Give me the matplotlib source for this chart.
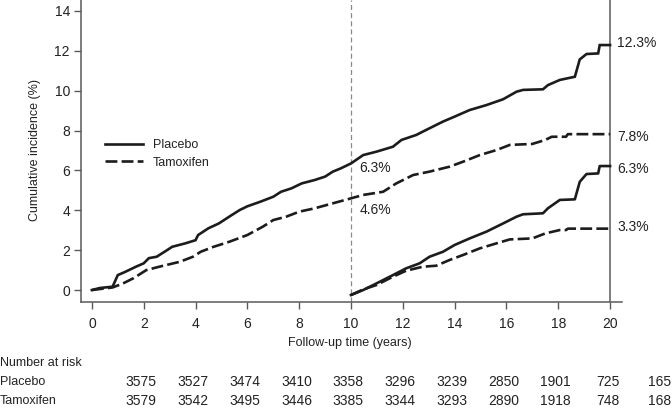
import matplotlib
matplotlib.use("Agg")
import matplotlib.pyplot as plt
import matplotlib.transforms as mtransforms

plt.rcParams['font.family'] = ['Liberation Sans', 'DejaVu Sans']

# ---- data ----
plac1_t = [0, 0.3, 0.8, 1.0, 1.3, 1.7, 2.0, 2.2, 2.5, 2.9, 3.1, 3.6, 4.0, 4.1, 4.5, 4.9, 5.3, 5.7,
           6.0, 6.5, 7.0, 7.3, 7.7, 8.1, 8.6, 9.0, 9.3, 9.6, 10.0, 10.47, 10.98, 11.62, 11.95, 12.52,
           12.9, 13.55, 14.0, 14.58, 15.23, 15.87, 16.39, 16.64, 17.41, 17.6, 18.06, 18.64, 18.83,
           19.09, 19.54, 19.6, 20.0]
plac1_y = [0, 0.1, 0.17, 0.75, 0.92, 1.17, 1.34, 1.6, 1.67, 2.0, 2.17, 2.34, 2.5, 2.76, 3.1, 3.34,
           3.68, 4.01, 4.2, 4.43, 4.68, 4.93, 5.1, 5.35, 5.52, 5.69, 5.94, 6.1, 6.35, 6.77, 6.94,
           7.19, 7.53, 7.78, 8.03, 8.45, 8.7, 9.03, 9.28, 9.57, 9.95, 10.04, 10.07, 10.28, 10.54,
           10.7, 11.57, 11.84, 11.87, 12.29, 12.29]

tam1_t = [0, 0.8, 1.2, 1.6, 2.1, 2.6, 3.4, 3.9, 4.2, 4.7, 5.3, 6.0, 6.6, 7.0, 7.5, 8.0, 8.6, 9.3,
          10.0, 10.47, 11.24, 11.75, 12.4, 13.03, 13.81, 14.33, 14.97, 15.61, 16.13, 17.0, 17.5,
          17.75, 18.3, 18.37, 20.0]
tam1_y = [0, 0.13, 0.33, 0.59, 1.0, 1.17, 1.42, 1.67, 1.92, 2.17, 2.42, 2.76, 3.18, 3.51, 3.68,
          3.93, 4.1, 4.35, 4.6, 4.77, 4.93, 5.35, 5.77, 5.94, 6.19, 6.44, 6.77, 7.02, 7.28, 7.33,
          7.53, 7.69, 7.69, 7.82, 7.82]

plac2_t = [10.0, 10.47, 10.98, 11.62, 12.13, 12.65, 13.03, 13.55, 14.0, 14.58, 15.23, 15.87, 16.39,
           16.64, 17.41, 17.6, 18.06, 18.64, 18.83, 19.09, 19.54, 19.6, 20.0]
plac2_y = [-0.25, 0.0, 0.33, 0.75, 1.09, 1.34, 1.67, 1.92, 2.26, 2.59, 2.93, 3.34, 3.68, 3.8, 3.85,
           4.1, 4.52, 4.55, 5.43, 5.82, 5.85, 6.22, 6.22]

tam2_t = [10.0, 10.47, 10.98, 11.62, 12.13, 12.77, 13.29, 13.81, 14.33, 14.97, 15.61, 16.13, 17.0,
          17.5, 18.06, 18.3, 18.37, 20.0]
tam2_y = [-0.25, 0.03, 0.25, 0.67, 0.97, 1.17, 1.22, 1.51, 1.76, 2.09, 2.34, 2.54, 2.59, 2.84,
          3.01, 3.01, 3.08, 3.08]

right_labels = ["12.3%", "7.8%", "6.3%", "3.3%"]
right_label_y = [12.4, 7.69, 6.06, 3.18]
inner_labels = ["6.3%", "4.6%"]
inner_label_y = [6.1, 4.0]

xticks = [0, 2, 4, 6, 8, 10, 12, 14, 16, 18, 20]
yticks = [0, 2, 4, 6, 8, 10, 12, 14]

risk_x = [2, 4, 6, 8, 10, 12, 14, 16, 18, 20, 22]
risk_placebo = [3575, 3527, 3474, 3410, 3358, 3296, 3239, 2850, 1901, 725, 165]
risk_tamoxifen = [3579, 3542, 3495, 3446, 3385, 3344, 3293, 2890, 1918, 748, 168]

# ---- figure ----
W, H = 672, 409
fig = plt.figure(figsize=(W / 100, H / 100), dpi=100)
ax = fig.add_axes([81 / W, 1 - 302 / H, (622 - 81) / W, 302 / H])

lc = '#1c1c1c'
gc = '#5a5a5a'
tc = '#222222'
dash = (0, (4.5, 1.6))

ax.plot(plac1_t, plac1_y, color=lc, lw=1.9, label='Placebo', solid_joinstyle='miter')
ax.plot(tam1_t, tam1_y, color=lc, lw=1.9, ls=dash, label='Tamoxifen')
ax.plot(plac2_t, plac2_y, color=lc, lw=1.9)
ax.plot(tam2_t, tam2_y, color=lc, lw=1.9, ls=dash)

ax.axvline(10, color='#8a8a8a', lw=0.9, ls=(0, (4, 2.5)), zorder=0)
ax.axvline(20, color=gc, lw=1.1, zorder=0)

ax.set_xlim(-0.42, 20.46)
ax.set_ylim(-0.6, 14.55)
ax.set_xticks(xticks)
ax.set_yticks(yticks)
for s in ['top', 'right']:
    ax.spines[s].set_visible(False)
for s in ['left', 'bottom']:
    ax.spines[s].set_color(gc)
    ax.spines[s].set_linewidth(1.1)
ax.tick_params(axis='both', colors=gc, labelcolor=tc, labelsize=10, width=1.0, length=5)
ax.tick_params(axis='x', pad=6)
ax.tick_params(axis='y', pad=3)

for lab, yy in zip(right_labels, right_label_y):
    ax.text(20.27, yy, lab, fontsize=10, color=tc, va='center', ha='left', clip_on=False)
for lab, yy in zip(inner_labels, inner_label_y):
    ax.text(10.33, yy, lab, fontsize=10, color=tc, va='center', ha='left')

leg = ax.legend(loc='upper left', bbox_to_anchor=((105 - 81) / 541, (302 - 139) / 302),
                frameon=False, fontsize=9, handlelength=3.0, handletextpad=0.8,
                labelspacing=0.45, borderpad=0, borderaxespad=0)
for t in leg.get_texts():
    t.set_color(tc)

fig.text(35 / W, 1 - 150 / H, 'Cumulative incidence (%)', rotation=90, fontsize=9,
         color=tc, ha='center', va='center')
fig.text(350 / W, 1 - 343 / H, 'Follow-up time (years)', fontsize=9, color=tc,
         ha='center', va='center')

trans = mtransforms.blended_transform_factory(ax.transData, fig.transFigure)
fig.text(0, 1 - 363 / H, 'Number at risk', fontsize=9, color=tc, ha='left', va='center')
fig.text(0, 1 - 382 / H, 'Placebo', fontsize=9, color=tc, ha='left', va='center')
fig.text(0, 1 - 401 / H, 'Tamoxifen', fontsize=9, color=tc, ha='left', va='center')
for xv, a, b in zip(risk_x, risk_placebo, risk_tamoxifen):
    fig.text(xv - 0.1, 1 - 382 / H, str(a), fontsize=10, color=tc, ha='center', va='center',
             transform=trans)
    fig.text(xv - 0.1, 1 - 401 / H, str(b), fontsize=10, color=tc, ha='center', va='center',
             transform=trans)

fig.savefig('out.png', dpi=100)
